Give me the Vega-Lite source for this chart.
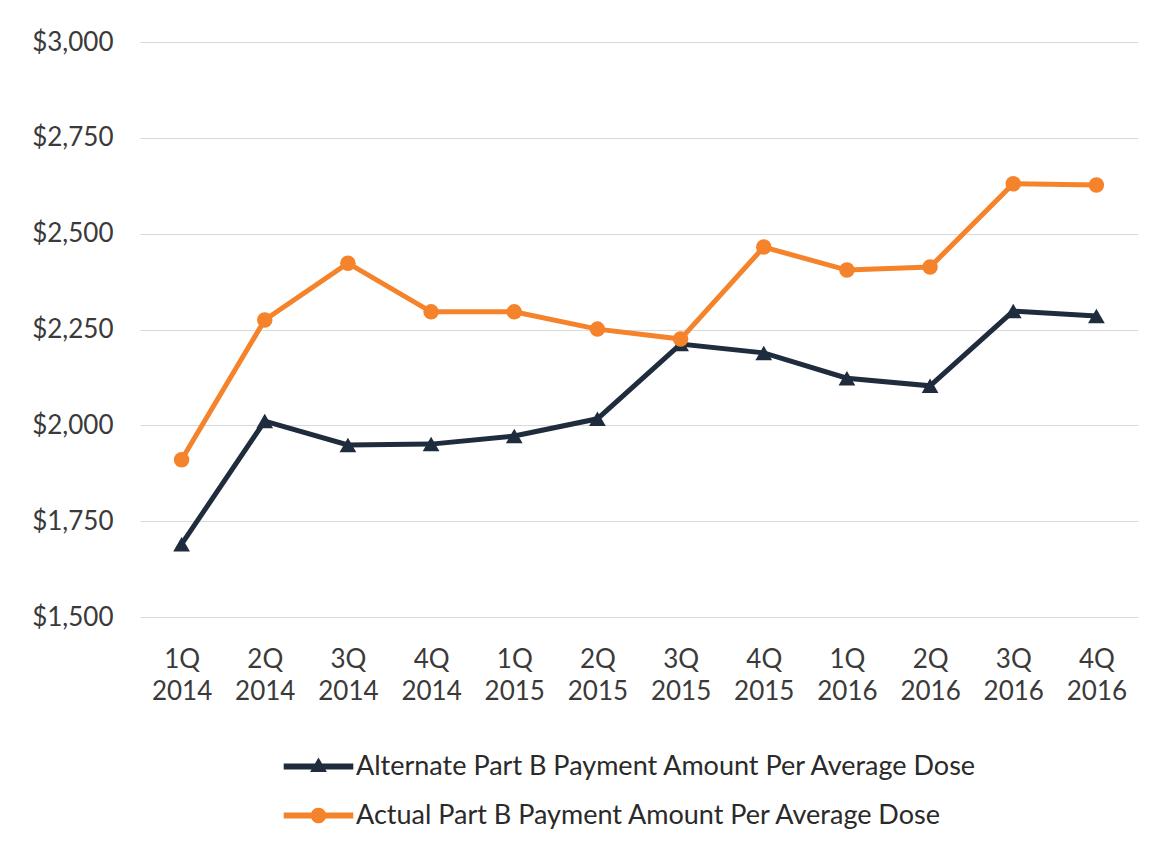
{
  "$schema": "https://vega.github.io/schema/vega-lite/v6.json",
  "width": 998,
  "height": 575,
  "autosize": "none",
  "padding": {"left": 140, "top": 42, "right": 25, "bottom": 240},
  "background": "white",
  "config": {
    "font": "Lato",
    "view": {"stroke": null},
    "axis": {"labelFont": "Lato", "labelColor": "#3a3a3a", "labelFontSize": 26, "title": null}
  },
  "data": {
    "values": [
      {"quarter": "1Q 2014", "series": "Alternate Part B Payment Amount Per Average Dose", "value": 1690},
      {"quarter": "2Q 2014", "series": "Alternate Part B Payment Amount Per Average Dose", "value": 2011},
      {"quarter": "3Q 2014", "series": "Alternate Part B Payment Amount Per Average Dose", "value": 1949},
      {"quarter": "4Q 2014", "series": "Alternate Part B Payment Amount Per Average Dose", "value": 1951},
      {"quarter": "1Q 2015", "series": "Alternate Part B Payment Amount Per Average Dose", "value": 1972},
      {"quarter": "2Q 2015", "series": "Alternate Part B Payment Amount Per Average Dose", "value": 2017},
      {"quarter": "3Q 2015", "series": "Alternate Part B Payment Amount Per Average Dose", "value": 2212},
      {"quarter": "4Q 2015", "series": "Alternate Part B Payment Amount Per Average Dose", "value": 2189},
      {"quarter": "1Q 2016", "series": "Alternate Part B Payment Amount Per Average Dose", "value": 2123},
      {"quarter": "2Q 2016", "series": "Alternate Part B Payment Amount Per Average Dose", "value": 2103},
      {"quarter": "3Q 2016", "series": "Alternate Part B Payment Amount Per Average Dose", "value": 2298},
      {"quarter": "4Q 2016", "series": "Alternate Part B Payment Amount Per Average Dose", "value": 2285},
      {"quarter": "1Q 2014", "series": "Actual Part B Payment Amount Per Average Dose", "value": 1910},
      {"quarter": "2Q 2014", "series": "Actual Part B Payment Amount Per Average Dose", "value": 2275},
      {"quarter": "3Q 2014", "series": "Actual Part B Payment Amount Per Average Dose", "value": 2423},
      {"quarter": "4Q 2014", "series": "Actual Part B Payment Amount Per Average Dose", "value": 2296},
      {"quarter": "1Q 2015", "series": "Actual Part B Payment Amount Per Average Dose", "value": 2296},
      {"quarter": "2Q 2015", "series": "Actual Part B Payment Amount Per Average Dose", "value": 2251},
      {"quarter": "3Q 2015", "series": "Actual Part B Payment Amount Per Average Dose", "value": 2225},
      {"quarter": "4Q 2015", "series": "Actual Part B Payment Amount Per Average Dose", "value": 2465},
      {"quarter": "1Q 2016", "series": "Actual Part B Payment Amount Per Average Dose", "value": 2405},
      {"quarter": "2Q 2016", "series": "Actual Part B Payment Amount Per Average Dose", "value": 2413},
      {"quarter": "3Q 2016", "series": "Actual Part B Payment Amount Per Average Dose", "value": 2630},
      {"quarter": "4Q 2016", "series": "Actual Part B Payment Amount Per Average Dose", "value": 2627}
    ]
  },
  "encoding": {
    "x": {
      "field": "quarter",
      "type": "ordinal",
      "sort": null,
      "scale": {"type": "point", "padding": 0.5},
      "axis": {
        "labelAngle": 0,
        "labelExpr": "split(datum.label, ' ')",
        "labelLineHeight": 32,
        "labelPadding": 29,
        "labelBaseline": "top",
        "ticks": false,
        "domain": false,
        "grid": false
      }
    },
    "y": {
      "field": "value",
      "type": "quantitative",
      "scale": {"domain": [1500, 3000], "nice": false, "zero": false},
      "axis": {
        "values": [1500, 1750, 2000, 2250, 2500, 2750, 3000],
        "format": "$,.0f",
        "ticks": false,
        "domain": false,
        "labelPadding": 27,
        "gridColor": "#d9d9d9",
        "gridWidth": 1
      }
    }
  },
  "layer": [
    {
      "transform": [{"filter": "datum.series == 'Alternate Part B Payment Amount Per Average Dose'"}],
      "mark": {"type": "line", "strokeWidth": 5, "color": "#1f2c3d"}
    },
    {
      "transform": [{"filter": "datum.series == 'Alternate Part B Payment Amount Per Average Dose'"}],
      "mark": {"type": "point", "shape": "triangle-up", "filled": true, "size": 280, "opacity": 1, "color": "#1f2c3d"}
    },
    {
      "transform": [{"filter": "datum.series == 'Actual Part B Payment Amount Per Average Dose'"}],
      "mark": {"type": "line", "strokeWidth": 5, "color": "#f5832b"}
    },
    {
      "transform": [{"filter": "datum.series == 'Actual Part B Payment Amount Per Average Dose'"}],
      "mark": {"type": "point", "shape": "circle", "filled": true, "size": 240, "opacity": 1, "color": "#f5832b"}
    },
    {
      "transform": [{"filter": "datum.value < 0"}],
      "mark": {"type": "point", "filled": true, "opacity": 1},
      "encoding": {
        "color": {
          "field": "series",
          "type": "nominal",
          "scale": {
            "domain": ["Alternate Part B Payment Amount Per Average Dose", "Actual Part B Payment Amount Per Average Dose"],
            "range": ["#1f2c3d", "#f5832b"]
          },
          "legend": {
            "orient": "none",
            "legendX": 165,
            "legendY": 711,
            "direction": "vertical",
            "title": null,
            "padding": 0,
            "symbolSize": 144,
            "symbolOpacity": 1,
            "symbolStrokeWidth": 0,
            "labelFont": "Lato",
            "labelFontSize": 27,
            "labelColor": "#2a2a2a",
            "labelOffset": 24,
            "rowPadding": 21,
            "labelLimit": 800
          }
        },
        "shape": {
          "field": "series",
          "type": "nominal",
          "scale": {
            "domain": ["Alternate Part B Payment Amount Per Average Dose", "Actual Part B Payment Amount Per Average Dose"],
            "range": [
              "M-5.8,-0.5H5.8V0.5H-5.8Z M0,-1.5L1.4,0.9H-1.4Z",
              "M-5.8,-0.5H5.8V0.5H-5.8Z M-1.3,0A1.3,1.3 0 1,1 1.3,0A1.3,1.3 0 1,1 -1.3,0Z"
            ]
          }
        }
      }
    }
  ]
}
